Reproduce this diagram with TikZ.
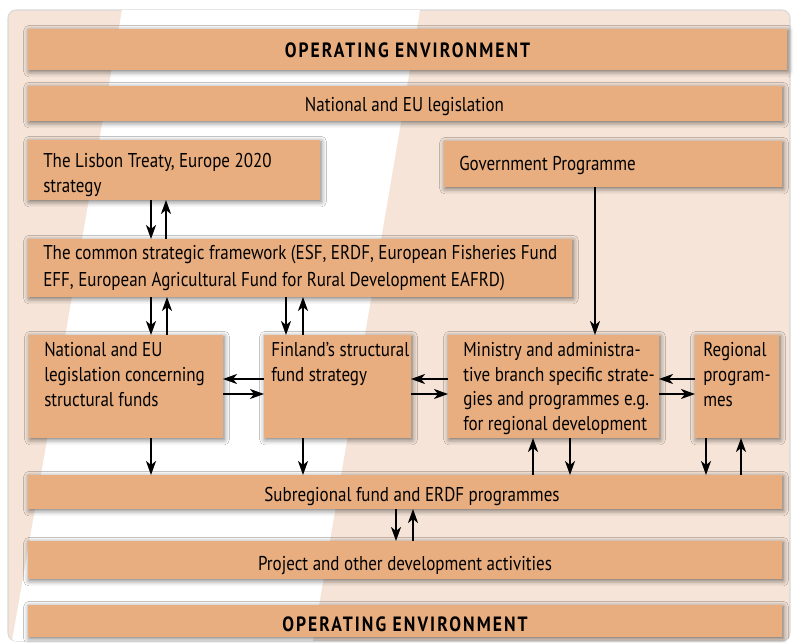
\documentclass[tikz,border=0pt]{standalone}
\usepackage{fontspec}
\setmainfont{PT Sans}[FakeStretch=0.85]
\newfontfamily\capsfont{PT Sans}[FakeStretch=0.85,LetterSpace=10]
\usetikzlibrary{arrows.meta,shadows.blur}
\definecolor{boxc}{HTML}{E8AE7F}
\definecolor{bgc}{HTML}{F5E4D7}
\begin{document}
\begin{tikzpicture}[x=0.75pt,y=-0.75pt,
  box/.style={fill=boxc, inner sep=0pt, outer sep=0pt, anchor=north west,
    blur shadow={shadow xshift=0.8pt, shadow yshift=-1.2pt, shadow blur radius=4pt, shadow opacity=55}},
  sz/.style 2 args={minimum width=#1*0.75pt, minimum height=#2*0.75pt},
  txt/.style={inner sep=0pt, anchor=base west, align=left, font=\fontsize{15}{18.4}\selectfont},
  ctxt/.style={inner sep=0pt, anchor=base, font=\fontsize{15}{18.4}\selectfont},
  caps/.style={inner sep=0pt, anchor=base, font=\fontsize{15.5}{18}\capsfont\bfseries},
  arr/.style={line width=1.5pt, -{Stealth[length=10.5pt,width=7.5pt,inset=3pt]}}
]
\useasboundingbox (0,0) rectangle (794,643);
% background panel
\path[fill=bgc, draw=black!15, line width=0.8pt, rounded corners=6pt] (8,10) rectangle (790,641);
\begin{scope}
  \clip[rounded corners=6pt] (8,10) rectangle (790,641);
  \fill[white] (122,10) -- (420,10) -- (313,641) -- (12,641) -- cycle;
\end{scope}

% boxes
\node[box, sz={759}{41}] (top) at (28,29) {};
\node[box, sz={754}{35}] (leg) at (28,86) {};
\node[box, sz={292}{60}] (lis) at (28,140) {};
\node[box, sz={338}{46}] (gov) at (444,141) {};
\node[box, sz={544}{58}] (csf) at (28,239) {};
\node[box, sz={194}{103}] (nat) at (29,335) {};
\node[box, sz={147}{103}] (fin) at (264,335) {};
\node[box, sz={211}{103}] (min) at (448,335) {};
\node[box, sz={84}{103}] (reg) at (695,335) {};
\node[box, sz={754}{34}] (sub) at (28,475) {};
\node[box, sz={754}{38}] (prj) at (28,541) {};
\node[box, sz={754}{32}] (bot) at (28,605) {};

% texts (anchor = baseline of the last line)
\node[caps] (ttop) at (407.5,57) {OPERATING ENVIRONMENT};
\node[ctxt] (tleg) at (404.5,111) {National and EU legislation};
\node[txt] (tlis) at (43,192) {The Lisbon Treaty, Europe 2020\\strategy};
\node[txt] (tgov) at (459,170) {Government Programme};
\node[txt, font=\fontsize{15}{20.2}\selectfont] (tcsf) at (43,286) {The common strategic framework (ESF, ERDF, European Fisheries Fund\\EFF, European Agricultural Fund for Rural Development EAFRD)};
\node[txt] (tnat) at (44,406) {National and EU\\legislation concerning\\structural funds};
\node[txt] (tfin) at (271,381.5) {Finland’s structural\\fund strategy};
\node[txt] (tmin) at (463,430.5) {Ministry and administra-\\tive branch specific strate-\\gies and programmes e.g.\\for regional development};
\node[txt] (treg) at (703,406) {Regional\\program-\\mes};
\node[ctxt] (tsub) at (412,501) {Subregional fund and ERDF programmes};
\node[ctxt] (tprj) at (405,570) {Project and other development activities};
\node[caps] (tbot) at (405,631) {OPERATING ENVIRONMENT};

% arrows
\draw[arr] (lis.south -| 151,0) -- (csf.north -| 151,0);
\draw[arr] (csf.north -| 166,0) -- (lis.south -| 166,0);
\draw[arr] (csf.south -| 151,0) -- (nat.north -| 151,0);
\draw[arr] (nat.north -| 167,0) -- (csf.south -| 167,0);
\draw[arr] (csf.south -| 286,0) -- (fin.north -| 286,0);
\draw[arr] (fin.north -| 303,0) -- (csf.south -| 303,0);
\draw[arr] (gov.south -| 595,0) -- (min.north -| 595,0);

\draw[arr] (fin.west |- 0,379) -- (nat.east |- 0,379);
\draw[arr] (nat.east |- 0,394) -- (fin.west |- 0,394);
\draw[arr] (min.west |- 0,379) -- (fin.east |- 0,379);
\draw[arr] (fin.east |- 0,394) -- (min.west |- 0,394);
\draw[arr] (reg.west |- 0,379) -- (min.east |- 0,379);
\draw[arr] (min.east |- 0,394) -- (reg.west |- 0,394);

\draw[arr] (nat.south -| 151,0) -- (sub.north -| 151,0);
\draw[arr] (fin.south -| 303,0) -- (sub.north -| 303,0);
\draw[arr] (sub.north -| 533,0) -- (min.south -| 533,0);
\draw[arr] (min.south -| 570,0) -- (sub.north -| 570,0);
\draw[arr] (reg.south -| 706,0) -- (sub.north -| 706,0);
\draw[arr] (sub.north -| 741,0) -- (reg.south -| 741,0);

\draw[arr] (sub.south -| 396,0) -- (prj.north -| 396,0);
\draw[arr] (prj.north -| 413,0) -- (sub.south -| 413,0);
\end{tikzpicture}
\end{document}
